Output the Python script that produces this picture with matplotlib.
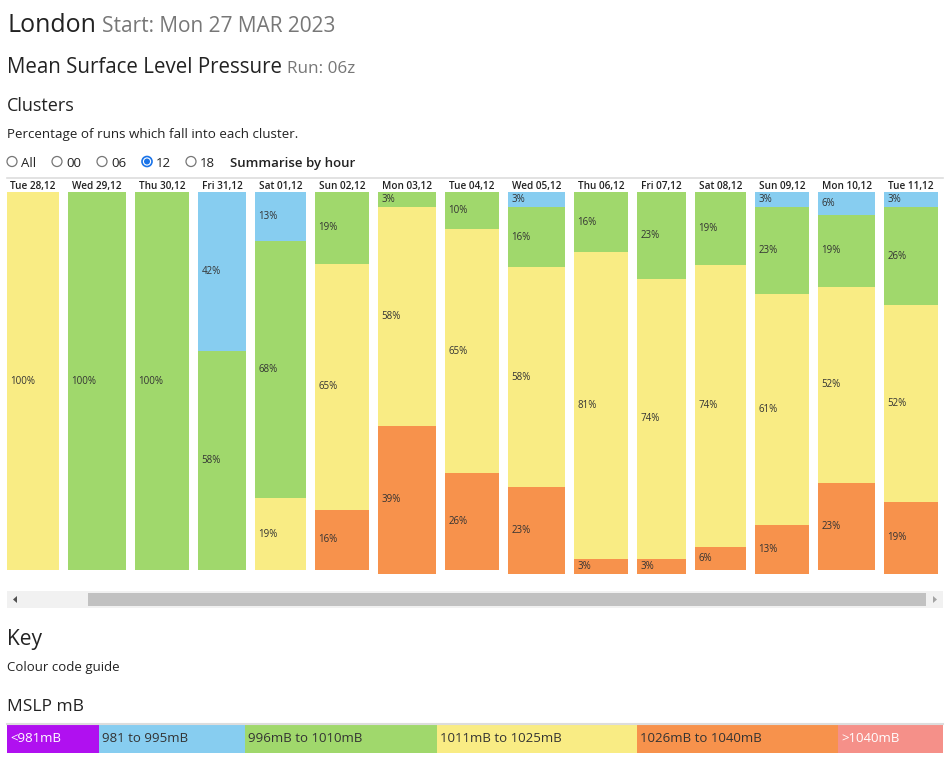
import numpy as np
import matplotlib
matplotlib.use("Agg")
import matplotlib.pyplot as plt
from matplotlib.patches import Circle, Polygon

plt.rcParams['font.family'] = ['Open Sans', 'DejaVu Sans']

# data
days = ["Tue 28,12", "Wed 29,12", "Thu 30,12", "Fri 31,12", "Sat 01,12",
        "Sun 02,12", "Mon 03,12", "Tue 04,12", "Wed 05,12", "Thu 06,12",
        "Fri 07,12", "Sat 08,12", "Sun 09,12", "Mon 10,12", "Tue 11,12"]
pct_981_995 = [0, 0, 0, 42, 13, 0, 0, 0, 3, 0, 0, 0, 3, 6, 3]
pct_996_1010 = [0, 100, 100, 58, 68, 19, 3, 10, 16, 16, 23, 19, 23, 19, 26]
pct_1011_1025 = [100, 0, 0, 0, 19, 65, 58, 65, 58, 81, 74, 74, 61, 52, 52]
pct_1026_1040 = [0, 0, 0, 0, 0, 16, 39, 26, 23, 3, 3, 6, 13, 23, 19]

key_labels = ["<981mB", "981 to 995mB", "996mB to 1010mB", "1011mB to 1025mB",
              "1026mB to 1040mB", ">1040mB"]
key_colors = ["#b010f0", "#87cdf0", "#a0d86c", "#f9ec84", "#f7924c", "#f59089"]
key_text = ["white", "#333333", "#333333", "#333333", "#333333", "white"]
key_widths = [92, 146, 192, 200, 201, 105]

radio = ["All", "00", "06", "12", "18"]
selected = "12"

# layout (pixels)
col_w = np.array([52, 58, 54, 48, 51, 54, 58, 54, 57, 54, 49, 51, 54, 57, 54])
gap = 9
x_left = 7 + np.concatenate([[0], np.cumsum(col_w + gap)[:-1]])
bar_top = 192
full_h = 378
min_h = 15

fig = plt.figure(figsize=(9.5, 7.71), dpi=100)
ax = fig.add_axes([0, 0, 1, 1])
ax.set_xlim(0, 950)
ax.set_ylim(771, 0)
ax.axis('off')

dark = "#222222"
grey = "#777777"

# headings
t = ax.text(7, 32, "London", fontsize=18, color=dark, va='baseline')
fig.canvas.draw()
bb = t.get_window_extent().transformed(ax.transData.inverted())
ax.text(bb.x1 + 6, 32, "Start: Mon 27 MAR 2023", fontsize=15, color=grey, va='baseline')

t = ax.text(7, 73, "Mean Surface Level Pressure", fontsize=14.8, color=dark, va='baseline')
fig.canvas.draw()
bb = t.get_window_extent().transformed(ax.transData.inverted())
ax.text(bb.x1 + 5, 73, "Run: 06z", fontsize=12.3, color=grey, va='baseline')

ax.text(7, 111, "Clusters", fontsize=13, color=dark, va='baseline')
ax.text(7, 138, "Percentage of runs which fall into each cluster.", fontsize=9.6,
        color=dark, va='baseline')

# radio buttons
circ_x = [12, 57, 102, 147, 191]
for cx, lab in zip(circ_x, radio):
    if lab == selected:
        ax.add_patch(Circle((cx, 161.5), 5, facecolor='white', edgecolor='#1a73e8', lw=1.2))
        ax.add_patch(Circle((cx, 161.5), 3, facecolor='#1a73e8', edgecolor='none'))
    else:
        ax.add_patch(Circle((cx, 161.5), 5, facecolor='white', edgecolor='#767676', lw=0.9))
    ax.text(cx + 9, 167, lab, fontsize=9.5, color=dark, va='baseline')
ax.text(230, 167, "Summarise by hour", fontsize=9.5, color=dark, va='baseline',
        fontweight='semibold')

ax.plot([7, 943], [177.5, 177.5], color='#dddddd', lw=1.2)

# stacked bars (heights scaled to column total, small slices kept readable)
series = [pct_981_995, pct_996_1010, pct_1011_1025, pct_1026_1040]
colors = key_colors[1:5]
totals = np.sum(np.array(series, dtype=float), axis=0)
bottom = np.full(len(days), float(bar_top))
for vals, c in zip(series, colors):
    vals = np.array(vals, dtype=float)
    h = np.where(vals > 0, np.maximum(vals / totals * full_h, min_h), 0)
    ax.bar(x_left, h, width=col_w, bottom=bottom, align='edge', color=c, linewidth=0)
    for i, v in enumerate(vals):
        if v > 0:
            ax.text(x_left[i] + 3.5, bottom[i] + h[i] / 2, "%d%%" % v, fontsize=7,
                    color='#333333', va='center', ha='left')
    bottom = bottom + h

for i, d in enumerate(days):
    ax.text(x_left[i] + col_w[i] / 2, 189, d, fontsize=7.2, color=dark, ha='center',
            va='baseline', fontweight='semibold')

# scrollbar
ax.add_patch(plt.Rectangle((7, 591), 936, 17, facecolor='#f1f1f1', edgecolor='none'))
ax.add_patch(plt.Rectangle((88, 593), 838, 13, facecolor='#c1c1c1', edgecolor='none'))
ax.add_patch(Polygon([[13, 599.5], [17, 596], [17, 603]], closed=True, facecolor='#505050'))
ax.add_patch(Polygon([[937, 599.5], [933, 596], [933, 603]], closed=True, facecolor='#a3a3a3'))

# key
ax.text(7, 645, "Key", fontsize=15, color=dark, va='baseline')
ax.text(7, 671, "Colour code guide", fontsize=9.5, color=dark, va='baseline')
ax.text(7, 711, "MSLP mB", fontsize=12.5, color=dark, va='baseline')
ax.plot([7, 943], [724, 724], color='#dddddd', lw=1.5)
kx = 7 + np.concatenate([[0], np.cumsum(key_widths)[:-1]])
ax.bar(kx, 28, width=key_widths, bottom=725, align='edge', color=key_colors, linewidth=0)
for x0, lab, tc in zip(kx, key_labels, key_text):
    ax.text(x0 + 3, 739, lab, fontsize=9.5, color=tc, va='center', ha='left')

fig.savefig("out.png", dpi=100)
